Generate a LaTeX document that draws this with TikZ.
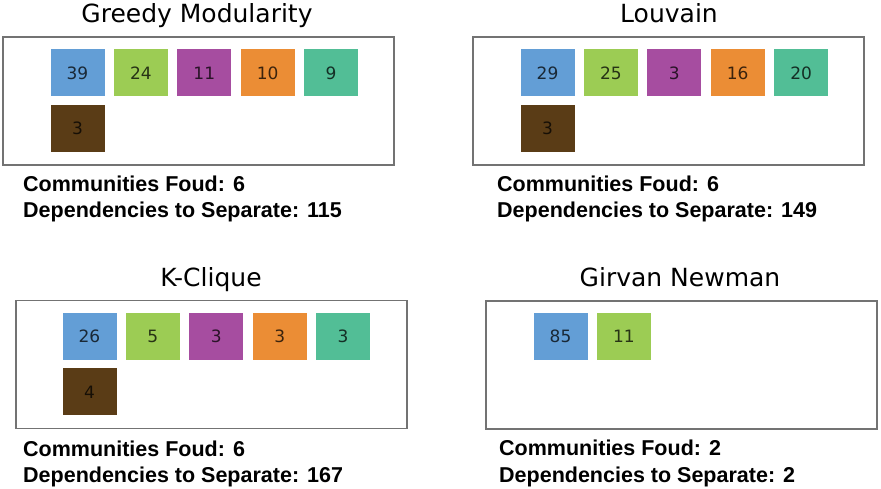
\documentclass[tikz,border=0pt]{standalone}
\usepackage{fontspec}
\setmainfont{DejaVu Sans}
\newfontfamily\statfont{Liberation Sans}
\usetikzlibrary{positioning}
\definecolor{cblue}{HTML}{639ED6}
\definecolor{cgreen}{HTML}{9CCC54}
\definecolor{cpurple}{HTML}{A64DA0}
\definecolor{corange}{HTML}{EB8D35}
\definecolor{cteal}{HTML}{52BE96}
\definecolor{cbrown}{HTML}{5A3C16}
\newcommand{\Found}{Communities Foud: }
\newcommand{\Sep}{Dependencies to Separate: }
\tikzstyle{frame} = [draw=black!55,line width=1.4pt,minimum width=391pt,minimum height=128pt,inner sep=0pt]
\tikzstyle{title} = [anchor=base,font=\fontsize{25}{25}\selectfont]
\tikzstyle{stat} = [anchor=base west,inner sep=0pt,font=\statfont\bfseries\fontsize{21.5}{21.5}\selectfont]

\begin{document}
\begin{tikzpicture}[x=1pt,y=-1pt,node distance=9pt,
  comm/.style={fill=#1,text=#1!25!black,minimum width=54pt,minimum height=47pt,inner sep=0pt,font=\fontsize{17}{17}\selectfont}]
\useasboundingbox (0,0) rectangle (881,489);

% Greedy Modularity
\node[frame]                                      (gmbox) at (198.5,101) {};
\node[title]                                      (gmt)   at (197,23)    {Greedy Modularity};
\node[comm=cblue, below right=13pt and 48pt of gmbox.north west] (g1) {39};
\node[comm=cgreen,  right = of g1]                (g2)    {24};
\node[comm=cpurple, right = of g2]                (g3)    {11};
\node[comm=corange, right = of g3]                (g4)    {10};
\node[comm=cteal,   right = of g4]                (g5)    {9};
\node[comm=cbrown,  below = 8pt of g1]            (g6)    {3};
\node[stat]                                       (gmf)   at (23,191.5)  {\Found 6};
\node[stat]                                       (gms)   at (23,218)    {\Sep 115};

% Louvain
\node[frame]                                      (lvbox) at (668.5,101) {};
\node[title]                                      (lvt)   at (669,23)    {Louvain};
\node[comm=cblue, below right=13pt and 48pt of lvbox.north west] (l1) {29};
\node[comm=cgreen,  right = of l1]                (l2)    {25};
\node[comm=cpurple, right = of l2]                (l3)    {3};
\node[comm=corange, right = of l3]                (l4)    {16};
\node[comm=cteal,   right = of l4]                (l5)    {20};
\node[comm=cbrown,  below = 8pt of l1]            (l6)    {3};
\node[stat]                                       (lvf)   at (497,191.5) {\Found 6};
\node[stat]                                       (lvs)   at (497,218)   {\Sep 149};

% K-Clique
\node[frame]                                      (kcbox) at (211.5,364.5) {};
\node[title]                                      (kct)   at (211,287)   {K-Clique};
\node[comm=cblue, below right=13pt and 47pt of kcbox.north west] (k1) {26};
\node[comm=cgreen,  right = of k1]                (k2)    {5};
\node[comm=cpurple, right = of k2]                (k3)    {3};
\node[comm=corange, right = of k3]                (k4)    {3};
\node[comm=cteal,   right = of k4]                (k5)    {3};
\node[comm=cbrown,  below = 8pt of k1]            (k6)    {4};
\node[stat]                                       (kcf)   at (23,456.5)  {\Found 6};
\node[stat]                                       (kcs)   at (23,482.5)  {\Sep 167};

% Girvan Newman
\node[frame]                                      (gnbox) at (681.5,365) {};
\node[title]                                      (gnt)   at (680,287)   {Girvan Newman};
\node[comm=cblue, below right=12pt and 48pt of gnbox.north west] (n1) {85};
\node[comm=cgreen,  right = of n1]                (n2)    {11};
\node[stat]                                       (gnf)   at (499,455.5) {\Found 2};
\node[stat]                                       (gns)   at (499,482)   {\Sep 2};
\end{tikzpicture}
\end{document}
